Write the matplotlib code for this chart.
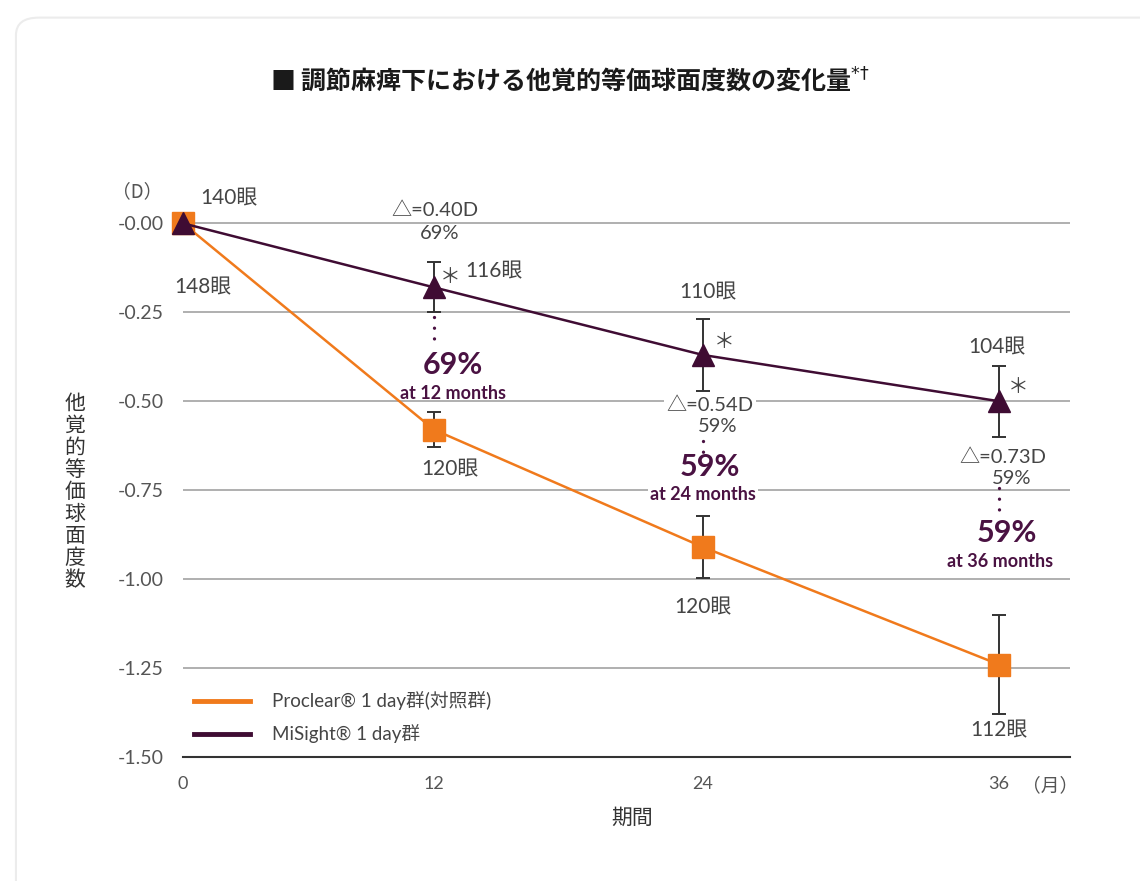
import numpy as np
import matplotlib
matplotlib.use('Agg')
import matplotlib.pyplot as plt
from matplotlib.lines import Line2D
from matplotlib.patches import FancyBboxPatch

# data
months = [0, 12, 24, 36]
misight_mean = [0.00, -0.18, -0.37, -0.50]
misight_err = [0.0, 0.07, 0.10, 0.10]
proclear_mean = [0.00, -0.58, -0.91, -1.24]
proclear_err = [0.0, 0.05, 0.088, 0.14]
misight_eyes = ['140眼', '116眼', '110眼', '104眼']
proclear_eyes = ['148眼', '120眼', '120眼', '112眼']
delta_text = ['△=0.40D', '△=0.54D', '△=0.73D']
delta_pct = ['69%', '59%', '59%']
months_text = ['at 12 months', 'at 24 months', 'at 36 months']
yticks = [0.0, -0.25, -0.5, -0.75, -1.0, -1.25, -1.5]
ytick_labels = ['-0.00', '-0.25', '-0.50', '-0.75', '-1.00', '-1.25', '-1.50']

ORANGE = '#f07a1c'
PURPLE = '#3f0c33'
BIG = '#4a1242'
TXT = '#454545'
LAT = ['Lato', 'Noto Sans CJK JP', 'DejaVu Sans']
JP = ['Noto Sans CJK JP', 'DejaVu Sans']
plt.rcParams['font.family'] = LAT

fig = plt.figure(figsize=(11.4, 8.81), dpi=100)
fig.patches.append(FancyBboxPatch((0.014, -0.2), 1.2, 1.18, boxstyle='round,pad=0,rounding_size=0.02',
                                  transform=fig.transFigure, fc='none', ec='#ececec', lw=1.5))
ax = fig.add_axes([183 / 1140, 1 - 757 / 881, 887 / 1140, 555 / 881])

# the month axis in the original is not evenly spaced
_m = [-12, 0, 12, 24, 36, 48]
_p = [-68, 183, 434, 703, 999, 1295]
ax.set_xscale('function', functions=(lambda x: np.interp(x, _m, _p),
                                     lambda p: np.interp(p, _p, _m)))
ax.set_xlim(0, 36 + 71 / 296 * 12)
ax.set_ylim(-1.5, 0.06)

ax.plot(months, proclear_mean, color=ORANGE, lw=1.8, zorder=3, clip_on=False)
ax.errorbar(months[1:], proclear_mean[1:], yerr=proclear_err[1:], fmt='none',
            ecolor='#333333', elinewidth=1.4, capsize=5, capthick=1.4, zorder=4)
ax.plot(months, proclear_mean, 's', color=ORANGE, ms=16.5, zorder=5, clip_on=False)

ax.plot(months, misight_mean, color=PURPLE, lw=1.8, zorder=6, clip_on=False)
ax.errorbar(months[1:], misight_mean[1:], yerr=misight_err[1:], fmt='none',
            ecolor='#333333', elinewidth=1.4, capsize=5, capthick=1.4, zorder=7)
ax.plot(months, misight_mean, '^', color=PURPLE, ms=16.5, zorder=8, clip_on=False)

for s in ['top', 'right', 'left']:
    ax.spines[s].set_visible(False)
ax.spines['bottom'].set_color('#333333')
ax.spines['bottom'].set_linewidth(1.5)
ax.set_yticks(yticks)
ax.set_yticklabels(ytick_labels)
ax.set_xticks(months)
ax.set_xticklabels([str(m) for m in months])
ax.minorticks_off()
ax.tick_params(axis='both', length=0, labelcolor='#555555')
ax.tick_params(axis='y', pad=14, labelsize=14)
ax.tick_params(axis='x', pad=14, labelsize=13)
ax.yaxis.grid(True, color='#9a9a9a', lw=1.1)
ax.set_axisbelow(True)

# px per data unit for the dotted connectors
ppu = ax.get_position().height * fig.get_figheight() * fig.dpi / 1.56


def note(txt, x, y, dx, dy, size=15, color=TXT, weight='normal', ha='center', fam=LAT, box=False):
    kw = {}
    if box:
        kw['bbox'] = dict(fc='white', ec='none', pad=1.5)
    ax.annotate(txt, xy=(x, y), xytext=(dx, dy), textcoords='offset pixels', ha=ha, va='center',
                fontsize=size, color=color, fontweight=weight, family=fam, zorder=9, **kw)


note(misight_eyes[0], months[0], misight_mean[0], 17, 25, ha='left')
note(proclear_eyes[0], months[0], proclear_mean[0], 20, -64)
note(misight_eyes[1], months[1], misight_mean[1], 31, 16, ha='left')
note(misight_eyes[2], months[2], misight_mean[2], 5, 63)
note(misight_eyes[3], months[3], misight_mean[3], -2, 54)
for i in range(1, 4):
    note(proclear_eyes[i], months[i], proclear_mean[i], [16, 0, 0][i - 1], [-40, -60, -66][i - 1])
for i, (dx, dy) in enumerate([(16, 10), (21, 13), (19, 14)]):
    note('＊', months[i + 1], misight_mean[i + 1], dx, dy, size=15, fam=JP)

# delta annotations
d_off = [(1, 77), (7, -51), (4, -56)]
p_off = [(6, 54), (15, -72), (13, -77)]
b_off = [(19, -78), (7, -112), (8, -132)]
m_off = [(19, -106), (0, -140), (1, -160)]
dots = [(30, 60), (86, 97), (87, 114)]
for i in range(3):
    x, y = months[i + 1], misight_mean[i + 1]
    box = i == 1
    note(delta_text[i], x, y, *d_off[i], size=14.5, box=box)
    note(delta_pct[i], x, y, *p_off[i], size=14.5, box=box)
    note(delta_pct[i], x, y, *b_off[i], size=22, color=BIG, weight='bold')
    note(months_text[i], x, y, *m_off[i], size=13, color=BIG, weight='bold', box=box)
    ax.plot([x, x], [y - dots[i][0] / ppu, y - dots[i][1] / ppu], color=BIG, lw=2.4,
            ls=(0, (0.01, 3.2)), dash_capstyle='round', zorder=9)

ax.legend(handles=[Line2D([], [], color=ORANGE, lw=3.5), Line2D([], [], color=PURPLE, lw=3.5)],
          labels=['Proclear® 1 day群(対照群)', 'MiSight® 1 day群'],
          loc='lower left', bbox_to_anchor=(0.012, 0.025), frameon=False, fontsize=13.5,
          handlelength=3.0, handletextpad=1.2, labelspacing=0.75, borderpad=0, borderaxespad=0,
          labelcolor=TXT)

fig.text(270 / 1140, 1 - 80 / 881, '■ 調節麻痺下における他覚的等価球面度数の変化量$^{*†}$',
         ha='left', va='center', fontsize=18, fontweight='bold', color='#1a1a1a', family=JP)
fig.text(137 / 1140, 1 - 192 / 881, '（D）', ha='center', va='center', fontsize=13.5, color='#555555', family=JP)
fig.text(1050 / 1140, 1 - 786 / 881, '（月）', ha='center', va='center', fontsize=13.5, color='#555555', family=JP)
fig.text(632 / 1140, 1 - 818 / 881, '期間', ha='center', va='center', fontsize=15, color='#333333', family=JP)
fig.text(75 / 1140, 1 - 492 / 881, '\n'.join('他覚的等価球面度数'), ha='center', va='center',
         fontsize=15, color='#333333', family=JP, linespacing=1.0)

fig.savefig('out.png', dpi=100)
